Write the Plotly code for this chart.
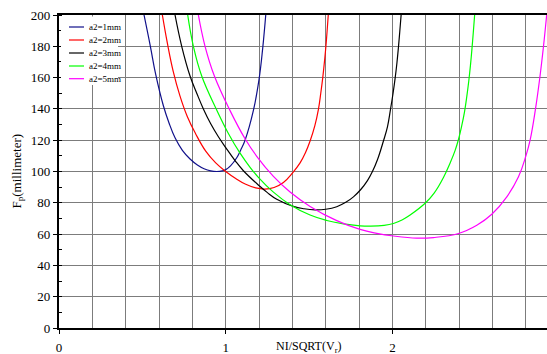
import plotly.graph_objects as go

# Curve names and colours
series_names = ["a2=1mm", "a2=2mm", "a2=3mm", "a2=4mm", "a2=5mm"]
series_colors = ["#10108a", "#ff0000", "#000000", "#00ff00", "#ff00ff"]

# Fp (millimeter) versus NI/SQRT(Vr) for each a2
a1_x = [0.51, 0.548, 0.58, 0.626, 0.66, 0.696, 0.74, 0.786, 0.83, 0.87, 0.91, 0.946,
        0.98, 1.0, 1.03, 1.066, 1.09, 1.116, 1.166, 1.20, 1.222, 1.24]
a1_y = [200, 180, 162, 142, 131, 121.5, 113.5, 108, 104.2, 101.8, 100.4, 100,
        100.4, 101.2, 103.8, 108.8, 113.8, 120, 139, 159, 179, 200]

a2_x = [0.62, 0.65, 0.685, 0.725, 0.77, 0.82, 0.88, 0.94, 1.0, 1.06, 1.12, 1.18, 1.235,
        1.29, 1.346, 1.40, 1.446, 1.478, 1.506, 1.535, 1.556, 1.57, 1.582, 1.592, 1.601, 1.615]
a2_y = [200, 182, 164, 148.5, 135, 124, 113, 105.5, 100, 95.5, 91.8, 89.5, 88.8,
        89.8, 93, 99, 105.5, 112, 119.5, 129.5, 139.7, 150, 160, 170, 180, 200]

a3_x = [0.696, 0.736, 0.786, 0.83, 0.866, 0.91, 0.956, 1.0, 1.056, 1.106, 1.2, 1.25, 1.306,
        1.406, 1.47, 1.536, 1.6, 1.666, 1.72, 1.766, 1.81, 1.85, 1.88, 1.91, 1.946, 1.97,
        1.988, 2.003, 2.016, 2.027, 2.036, 2.044, 2.052]
a3_y = [200, 180, 161, 149, 140, 130.5, 122.2, 115.3, 107, 100.5, 91, 86.5, 82.3,
        77.7, 76.2, 75.5, 75.9, 77.5, 80.3, 83.8, 88.5, 94.2, 100, 107.5, 119.5, 128.5,
        139.5, 149.5, 159.5, 169.5, 179.5, 189.5, 200]

a4_x = [0.772, 0.806, 0.856, 0.946, 1.016, 1.086, 1.146, 1.2, 1.286, 1.386, 1.506, 1.606,
        1.706, 1.806, 1.87, 1.95, 2.006, 2.06, 2.106, 2.196, 2.25, 2.306, 2.346, 2.376,
        2.396, 2.415, 2.432, 2.446, 2.458, 2.468, 2.477, 2.485, 2.493]
a4_y = [200, 180, 161, 139.3, 124.3, 111.7, 102.7, 95.8, 86.8, 78.8, 72.2, 68.7,
        66.5, 65.3, 65.1, 65.6, 66.8, 69.2, 72.2, 79.7, 86.2, 96.2, 105.5, 113.5,
        120.5, 129, 138, 148, 158, 168, 178.5, 189, 200]

a5_x = [0.836, 0.876, 0.932, 1.026, 1.116, 1.186, 1.286, 1.386, 1.506, 1.666, 1.806, 1.906,
        2.006, 2.146, 2.246, 2.396, 2.506, 2.596, 2.686, 2.756, 2.8, 2.826, 2.858, 2.884,
        2.906, 2.925]
a5_y = [200, 180, 161, 138.9, 120.9, 109.7, 96.9, 86.9, 77.7, 68.6, 63, 60.5,
        58.8, 57.4, 57.8, 60.4, 65.7, 72.7, 83.8, 96.6, 109.8, 120.2, 140, 160,
        180, 200]

xs = [a1_x, a2_x, a3_x, a4_x, a5_x]
ys = [a1_y, a2_y, a3_y, a4_y, a5_y]

x_range = [0, 2.927]
y_range = [0, 200]
x_ticks = [0, 1, 2]
x_tick_text = ["0", "1", "2"]
y_ticks = list(range(0, 201, 20))

SERIF = "Liberation Serif"
GRID = "#7c7c7c"

fig = go.Figure()
for name, color, x, y in zip(series_names, series_colors, xs, ys):
    fig.add_trace(go.Scatter(
        x=x, y=y, name=name, mode="lines",
        line=dict(color=color, width=1.2, shape="spline", smoothing=1.2),
        showlegend=False,
    ))

fig.update_layout(
    width=547, height=354,
    margin=dict(l=59, r=0, t=15, b=26),
    paper_bgcolor="white", plot_bgcolor="white",
    font=dict(family=SERIF, size=13, color="black"),
)

fig.update_xaxes(
    range=x_range, tickvals=x_ticks, ticktext=x_tick_text,
    ticks="outside", ticklen=4, tickcolor="black", tickwidth=1,
    ticklabelstandoff=3,
    showgrid=True, gridcolor=GRID, gridwidth=1,
    minor=dict(dtick=0.2, showgrid=True, gridcolor=GRID, gridwidth=1, ticks=""),
    showline=True, linecolor="black", linewidth=1.6, mirror=True,
    zeroline=False, automargin=False,
    tickfont=dict(family=SERIF, size=13),
)
fig.update_yaxes(
    range=y_range, tickvals=y_ticks,
    ticks="outside", ticklen=4, tickcolor="black", tickwidth=1,
    showgrid=True, gridcolor=GRID, gridwidth=1,
    minor=dict(dtick=10, ticks="inside", ticklen=3, tickcolor="black", showgrid=False),
    showline=True, linecolor="black", linewidth=2.2,
    zeroline=False, automargin=False,
    tickfont=dict(family=SERIF, size=13),
)

# Axis titles
fig.add_annotation(
    text="NI/SQRT(V<sub>r</sub>)", xref="paper", yref="paper",
    x=0.512, y=0, yshift=-19, xanchor="center", yanchor="middle",
    showarrow=False, font=dict(family=SERIF, size=12),
)
fig.add_annotation(
    text="F<sub>p</sub>(millimeter)", xref="paper", yref="paper",
    x=0, y=0.5, xshift=-42, xanchor="center", yanchor="middle",
    textangle=-90, showarrow=False, font=dict(family=SERIF, size=13),
)

# Legend block in the upper-left corner
PW, PH = 488.0, 313.0
def px_x(px):
    return (px - 59) / PW
def px_y(py):
    return (328 - py) / PH

fig.add_shape(type="rect", xref="paper", yref="paper",
              x0=px_x(61), x1=px_x(118), y0=px_y(85), y1=px_y(16.5),
              fillcolor="white", line=dict(width=0), layer="above")
row_y = [27, 40, 53, 66, 78.7]
for name, color, ry in zip(series_names, series_colors, row_y):
    fig.add_shape(type="line", xref="paper", yref="paper",
                  x0=px_x(69), x1=px_x(84), y0=px_y(ry), y1=px_y(ry),
                  line=dict(color=color, width=1.2), layer="above")
    fig.add_annotation(text=name, xref="paper", yref="paper",
                       x=px_x(87), y=px_y(ry), xanchor="left", yanchor="middle",
                       showarrow=False, font=dict(family=SERIF, size=9))

fig.write_html("out.html")
